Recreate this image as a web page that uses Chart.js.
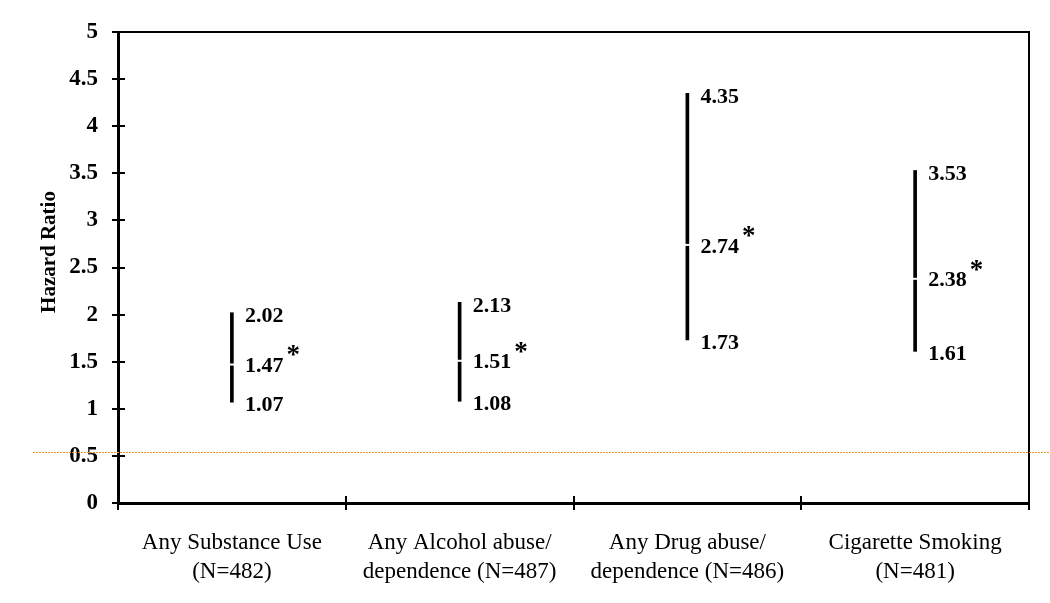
<!DOCTYPE html>
<html>
<head>
<meta charset="utf-8">
<script src="https://cdn.jsdelivr.net/npm/chart.js@4.4.0/dist/chart.umd.min.js"></script>
<style>
html, body { margin: 0; padding: 0; background: #fff; }
#wrap { width: 1050px; height: 603px; }
</style>
</head>
<body>
<div id="wrap"><canvas id="hr"></canvas></div>
<script>
// data
var categories = [
    ['Any Substance Use', '(N=482)'],
    ['Any Alcohol abuse/', 'dependence (N=487)'],
    ['Any Drug abuse/', 'dependence (N=486)'],
    ['Cigarette Smoking', '(N=481)']
];
var hazardRatio = [1.47, 1.51, 2.74, 2.38];
var ciLower = [1.07, 1.08, 1.73, 1.61];
var ciUpper = [2.02, 2.13, 4.35, 3.53];
var significant = [true, true, true, true];
var yMin = 0, yMax = 5, yStep = 0.5;
var refLine = 0.54;   // dotted orange line

var serif = '"Liberation Serif", "Times New Roman", serif';

var decorPlugin = {
    id: 'decor',
    afterDraw: function(chart) {
        var ctx = chart.ctx;
        var area = chart.chartArea;
        var xs = chart.scales.x, ys = chart.scales.y;
        ctx.save();

        // frame top + right, inner tick halves
        ctx.strokeStyle = '#000';
        ctx.lineWidth = 2;
        ctx.beginPath();
        ctx.moveTo(area.left, area.top);
        ctx.lineTo(area.right, area.top);
        ctx.lineTo(area.right, area.bottom + 6);
        ys.ticks.forEach(function(t) {
            var py = Math.round(ys.getPixelForValue(t.value));
            ctx.moveTo(area.left, py);
            ctx.lineTo(area.left + 7, py);
        });
        var step = xs.getPixelForValue(1) - xs.getPixelForValue(0);
        for (var i = 0; i <= categories.length; i++) {
            var bx = Math.round(xs.getPixelForValue(i) - step / 2);
            ctx.moveTo(bx, area.bottom);
            ctx.lineTo(bx, area.bottom - 7);
        }
        ctx.stroke();

        // dotted reference line
        var ry = Math.round(ys.getPixelForValue(refLine)) + 0.5;
        ctx.strokeStyle = '#eb9a1c';
        ctx.lineWidth = 1;
        ctx.setLineDash([2, 1]);
        ctx.beginPath();
        ctx.moveTo(33, ry);
        ctx.lineTo(chart.width, ry);
        ctx.stroke();
        ctx.setLineDash([]);

        // value labels
        ctx.fillStyle = '#000';
        ctx.textAlign = 'left';
        ctx.textBaseline = 'middle';
        for (var j = 0; j < hazardRatio.length; j++) {
            ctx.font = 'bold 22px ' + serif;
            var px = xs.getPixelForValue(j) + 13;
            ctx.fillText(ciUpper[j].toFixed(2), px, ys.getPixelForValue(ciUpper[j]) + 4);
            ctx.fillText(ciLower[j].toFixed(2), px, ys.getPixelForValue(ciLower[j]) + 3);
            var my = ys.getPixelForValue(hazardRatio[j]) + 2;
            var txt = hazardRatio[j].toFixed(2);
            ctx.fillText(txt, px, my);
            if (significant[j]) {
                var w = ctx.measureText(txt).width;
                ctx.font = 'bold 27px ' + serif;
                ctx.fillText('*', px + w + 3, my - 10);
            }
        }

        // y axis title
        ctx.font = 'bold 21px ' + serif;
        ctx.textAlign = 'center';
        ctx.translate(50, 252);
        ctx.rotate(-Math.PI / 2);
        ctx.fillText('Hazard Ratio', 0, 0);
        ctx.restore();
    }
};

new Chart(document.getElementById('hr'), {
    type: 'bar',
    data: {
        labels: categories,
        datasets: [{
            type: 'line',
            data: hazardRatio,
            showLine: false,
            pointStyle: 'line',
            pointRadius: 3,
            pointBorderColor: '#fff',
            pointBorderWidth: 2,
            order: 1
        }, {
            data: ciLower.map(function(l, i) { return [l, ciUpper[i]]; }),
            backgroundColor: '#000',
            barThickness: 3,
            grouped: false,
            order: 2
        }]
    },
    options: {
        responsive: true,
        maintainAspectRatio: false,
        animation: false,
        layout: { padding: { top: 32, right: 21, left: 0, bottom: 0 } },
        plugins: { legend: { display: false }, tooltip: { enabled: false } },
        scales: {
            x: {
                offset: true,
                grid: { offset: true, drawOnChartArea: false, tickLength: 7, color: '#000', lineWidth: 2 },
                border: { color: '#000', width: 3 },
                ticks: {
                    color: '#000',
                    font: { family: serif, size: 23, lineHeight: 1.25 },
                    padding: 19,
                    maxRotation: 0,
                    autoSkip: false
                },
                afterFit: function(s) { s.height = 100; }
            },
            y: {
                min: yMin,
                max: yMax,
                grid: { drawOnChartArea: false, tickLength: 6, color: '#000', lineWidth: 2 },
                border: { color: '#000', width: 3 },
                ticks: {
                    stepSize: yStep,
                    color: '#000',
                    font: { family: serif, size: 23, weight: 'bold' },
                    padding: 14,
                    callback: function(v) { return String(v); }
                },
                afterFit: function(s) { s.width = 118; }
            }
        }
    },
    plugins: [decorPlugin]
});
</script>
</body>
</html>
